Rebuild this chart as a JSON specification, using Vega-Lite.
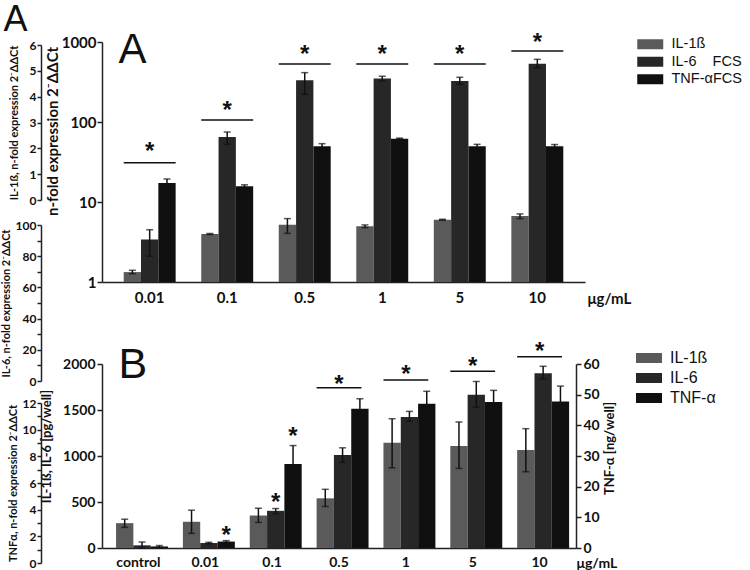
{
  "$schema": "https://vega.github.io/schema/vega-lite/v6.json",
  "background": "white",
  "padding": {"left": 0, "top": 1, "right": 0, "bottom": 0},
  "config": {
    "view": {"stroke": null},
    "axis": {"domainColor": "#222", "tickColor": "#222", "labelColor": "#111", "titleColor": "#111", "labelFont": "Lato", "titleFont": "Lato", "labelFontWeight": "bold", "titleFontWeight": "bold", "grid": false, "domainWidth": 1.5, "tickWidth": 1.5},
    "legend": {"labelFont": "Liberation Sans", "labelColor": "#111"}
  },
  "datasets": {
    "a": [
      {"cat": "0.01", "cyt": "IL-1ß", "val": 1.33, "lo": 1.27, "hi": 1.4},
      {"cat": "0.01", "cyt": "IL-6", "val": 3.4, "lo": 2.1, "hi": 4.5},
      {"cat": "0.01", "cyt": "TNF-α", "val": 17.3, "lo": 15.4, "hi": 19.4},
      {"cat": "0.1", "cyt": "IL-1ß", "val": 3.98, "lo": 3.92, "hi": 4.04},
      {"cat": "0.1", "cyt": "IL-6", "val": 65, "lo": 52.6, "hi": 75},
      {"cat": "0.1", "cyt": "TNF-α", "val": 15.7, "lo": 15.0, "hi": 16.4},
      {"cat": "0.5", "cyt": "IL-1ß", "val": 5.2, "lo": 4.06, "hi": 6.2},
      {"cat": "0.5", "cyt": "IL-6", "val": 332, "lo": 222, "hi": 414},
      {"cat": "0.5", "cyt": "TNF-α", "val": 49.7, "lo": 46.4, "hi": 53.6},
      {"cat": "1", "cyt": "IL-1ß", "val": 4.97, "lo": 4.78, "hi": 5.17},
      {"cat": "1", "cyt": "IL-6", "val": 349, "lo": 326, "hi": 373},
      {"cat": "1", "cyt": "TNF-α", "val": 61.9, "lo": 60.9, "hi": 62.9},
      {"cat": "5", "cyt": "IL-1ß", "val": 6.0, "lo": 5.92, "hi": 6.08},
      {"cat": "5", "cyt": "IL-6", "val": 326, "lo": 296, "hi": 362},
      {"cat": "5", "cyt": "TNF-α", "val": 49.7, "lo": 47.3, "hi": 52.6},
      {"cat": "10", "cyt": "IL-1ß", "val": 6.68, "lo": 6.2, "hi": 7.1},
      {"cat": "10", "cyt": "IL-6", "val": 535, "lo": 477, "hi": 607},
      {"cat": "10", "cyt": "TNF-α", "val": 49.7, "lo": 47.3, "hi": 52.3}
    ],
    "asig": [
      {"cat": "0.01", "line": 31, "star": 49.7},
      {"cat": "0.1", "line": 106, "star": 162},
      {"cat": "0.5", "line": 531, "star": 824},
      {"cat": "1", "line": 531, "star": 824},
      {"cat": "5", "line": 531, "star": 824},
      {"cat": "10", "line": 773, "star": 1152}
    ],
    "b": [
      {"cat": "control", "cyt": "IL-1ß", "val": 270, "lo": 224, "hi": 313},
      {"cat": "control", "cyt": "IL-6", "val": 29, "lo": 0, "hi": 65},
      {"cat": "control", "cyt": "TNF-α", "val": 0.5, "lo": 0.2, "hi": 0.8},
      {"cat": "0.01", "cyt": "IL-1ß", "val": 285, "lo": 159, "hi": 411},
      {"cat": "0.01", "cyt": "IL-6", "val": 54, "lo": 46, "hi": 62},
      {"cat": "0.01", "cyt": "TNF-α", "val": 2.1, "lo": 1.8, "hi": 2.4},
      {"cat": "0.1", "cyt": "IL-1ß", "val": 353, "lo": 278, "hi": 432},
      {"cat": "0.1", "cyt": "IL-6", "val": 404, "lo": 373, "hi": 429},
      {"cat": "0.1", "cyt": "TNF-α", "val": 27.4, "lo": 21, "hi": 33.4},
      {"cat": "0.5", "cyt": "IL-1ß", "val": 540, "lo": 451, "hi": 638},
      {"cat": "0.5", "cyt": "IL-6", "val": 1010, "lo": 930, "hi": 1089},
      {"cat": "0.5", "cyt": "TNF-α", "val": 45.4, "lo": 42.2, "hi": 48.7},
      {"cat": "1", "cyt": "IL-1ß", "val": 1143, "lo": 872, "hi": 1405},
      {"cat": "1", "cyt": "IL-6", "val": 1424, "lo": 1377, "hi": 1485},
      {"cat": "1", "cyt": "TNF-α", "val": 47.0, "lo": 43.3, "hi": 51.1},
      {"cat": "5", "cyt": "IL-1ß", "val": 1110, "lo": 865, "hi": 1370},
      {"cat": "5", "cyt": "IL-6", "val": 1665, "lo": 1532, "hi": 1810},
      {"cat": "5", "cyt": "TNF-α", "val": 47.6, "lo": 43.8, "hi": 51.4},
      {"cat": "10", "cyt": "IL-1ß", "val": 1064, "lo": 829, "hi": 1297},
      {"cat": "10", "cyt": "IL-6", "val": 1900, "lo": 1838, "hi": 1975},
      {"cat": "10", "cyt": "TNF-α", "val": 47.8, "lo": 43.3, "hi": 52.8}
    ],
    "bsig": [
      {"cat": "0.5", "line": 1741, "star": 1838},
      {"cat": "1", "line": 1827, "star": 1946},
      {"cat": "5", "line": 1921, "star": 2029},
      {"cat": "10", "line": 2080, "star": 2191}
    ],
    "bstar": [
      {"cat": "0.01", "cyt": "TNF-α", "star": 196},
      {"cat": "0.1", "cyt": "IL-6", "star": 558},
      {"cat": "0.1", "cyt": "TNF-α", "star": 1272}
    ],
    "stub": [{"cat": "0.1", "v": 0}]
  },
  "bounds": "flush",
  "spacing": 82,
  "resolve": {"scale": {"color": "independent"}, "legend": {"color": "independent"}},
  "vconcat": [
    {
      "width": 483,
      "height": 240,
      "encoding": {
        "x": {"field": "cat", "type": "nominal", "sort": ["0.01", "0.1", "0.5", "1", "5", "10"], "scale": {"paddingInner": 0.33, "paddingOuter": 0.28},
          "axis": {"title": "μg/mL", "labelAngle": 0, "ticks": false, "tickSize": 0, "labelPadding": 8, "labelFontSize": 15, "titleFontSize": 15, "titleX": 485, "titleY": 21, "titleAlign": "left", "titleAnchor": null, "titleBaseline": "alphabetic"}}
      },
      "layer": [
        {"data": {"name": "a"}, "mark": {"type": "bar"},
         "encoding": {
           "xOffset": {"field": "cyt", "type": "nominal", "sort": ["IL-1ß", "IL-6", "TNF-α"], "scale": {"domain": ["IL-1ß", "IL-6", "TNF-α"], "paddingInner": 0, "paddingOuter": 0}},
           "y": {"field": "val", "type": "quantitative", "scale": {"type": "log", "domain": [1, 1000], "nice": false},
             "axis": {"values": [1, 10, 100, 1000], "format": "d", "labelFontSize": 15, "tickSize": 5, "labelPadding": 1, "title": "n-fold expression 2⁻ΔΔCt", "titleFontSize": 15, "titlePadding": 1, "titleY": 89}},
           "y2": {"datum": 1},
           "color": {"field": "cyt", "type": "nominal", "scale": {"domain": ["IL-1ß", "IL-6", "TNF-α"], "range": ["#5a5a5a", "#272727", "#101010"]},
             "legend": {"title": null, "orient": "none", "legendX": 541, "legendY": -5, "symbolType": "M-2.6,-1H2.6V1H-2.6Z", "symbolSize": 100, "symbolStrokeWidth": 0, "symbolOpacity": 1, "labelFontSize": 14.5, "labelOffset": 14, "rowPadding": 2.5,
               "labelExpr": "datum.label == 'IL-6' ? 'IL-6\u00a0\u00a0\u00a0\u00a0FCS' : datum.label == 'TNF-α' ? 'TNF-αFCS' : datum.label"}}
         }},
        {"data": {"name": "a"}, "mark": {"type": "rule", "color": "#111", "strokeWidth": 1.5},
         "encoding": {
           "xOffset": {"field": "cyt", "type": "nominal", "sort": ["IL-1ß", "IL-6", "TNF-α"]},
           "y": {"field": "lo", "type": "quantitative", "scale": {"type": "log", "domain": [1, 1000], "nice": false}, "axis": null}, "y2": {"field": "hi"}}},
        {"data": {"name": "a"}, "mark": {"type": "tick", "color": "#111", "size": 7, "thickness": 1.5},
         "encoding": {
           "xOffset": {"field": "cyt", "type": "nominal", "sort": ["IL-1ß", "IL-6", "TNF-α"]},
           "y": {"field": "lo", "type": "quantitative", "scale": {"type": "log", "domain": [1, 1000], "nice": false}, "axis": null}}},
        {"data": {"name": "a"}, "mark": {"type": "tick", "color": "#111", "size": 7, "thickness": 1.5},
         "encoding": {
           "xOffset": {"field": "cyt", "type": "nominal", "sort": ["IL-1ß", "IL-6", "TNF-α"]},
           "y": {"field": "hi", "type": "quantitative", "scale": {"type": "log", "domain": [1, 1000], "nice": false}, "axis": null}}},
        {"data": {"name": "asig"}, "mark": {"type": "bar", "stroke": "#111", "strokeWidth": 1.5, "fill": "#111"},
         "encoding": {"y": {"field": "line", "type": "quantitative", "scale": {"type": "log", "domain": [1, 1000], "nice": false}, "axis": null}, "y2": {"field": "line"}}},
        {"data": {"name": "asig"}, "mark": {"type": "text", "text": "*", "font": "Liberation Sans", "fontWeight": "bold", "fontSize": 24, "color": "#111", "baseline": "middle", "dy": 6},
         "encoding": {"y": {"field": "star", "type": "quantitative", "scale": {"type": "log", "domain": [1, 1000], "nice": false}, "axis": null}}},
        {"data": {"name": "stub"}, "transform": [{"filter": "datum.v > 1"}], "mark": {"type": "point", "opacity": 0},
         "encoding": {"y": {"field": "v", "type": "quantitative", "scale": {"domain": [0, 6], "range": [158, 3], "nice": false, "zero": false},
            "axis": {"orient": "left", "offset": 61, "values": [0, 1, 2, 3, 4, 5, 6], "labelFontSize": 12, "tickSize": 4, "labelPadding": 1, "title": "IL-1ß, n-fold expression 2⁻ΔΔCt", "titleFontSize": 11, "titlePadding": 10}}}},
        {"data": {"name": "stub"}, "transform": [{"filter": "datum.v > 1"}], "mark": {"type": "point", "opacity": 0},
         "encoding": {"y": {"field": "v", "type": "quantitative", "scale": {"domain": [0, 100], "range": [339, 183], "nice": false, "zero": false},
            "axis": {"orient": "left", "offset": 61, "values": [0, 10, 20, 30, 40, 50, 60, 70, 80, 90, 100], "labelExpr": "datum.value % 20 == 0 ? datum.label : ''", "labelFontSize": 12, "tickSize": 4, "labelPadding": 1, "title": "IL-6, n-fold expression 2⁻ΔΔCt", "titleFontSize": 11, "titlePadding": 4}}}},
        {"data": {"name": "stub"}, "transform": [{"filter": "datum.v > 1"}], "mark": {"type": "point", "opacity": 0},
         "encoding": {"y": {"field": "v", "type": "quantitative", "scale": {"domain": [0, 1]},
            "axis": {"orient": "left", "domain": false, "ticks": false, "labels": false, "title": "A", "titleAngle": 0, "titleX": 16, "titleY": 20, "titleAlign": "left", "titleBaseline": "alphabetic", "titleFont": "Liberation Sans", "titleFontWeight": "normal", "titleFontSize": 42}}}},
        {"data": {"name": "stub"}, "transform": [{"filter": "datum.v > 1"}], "mark": {"type": "point", "opacity": 0},
         "encoding": {"y": {"field": "v", "type": "quantitative", "scale": {"domain": [0, 1]},
            "axis": {"orient": "left", "domain": false, "ticks": false, "labels": false, "title": "A", "titleAngle": 0, "titleX": -99, "titleY": -12, "titleAlign": "left", "titleBaseline": "alphabetic", "titleFont": "Liberation Sans", "titleFontWeight": "normal", "titleFontSize": 36}}}}
      ],
      "resolve": {"scale": {"y": "independent"}}
    },
    {
      "width": 474,
      "height": 184,
      "encoding": {
        "x": {"field": "cat", "type": "nominal", "sort": ["control", "0.01", "0.1", "0.5", "1", "5", "10"], "scale": {"paddingInner": 0.33, "paddingOuter": 0.21},
          "axis": {"title": "μg/mL", "labelAngle": 0, "ticks": false, "tickSize": 0, "labelPadding": 7, "labelFontSize": 14, "titleFontSize": 14, "titleX": 474, "titleY": 19, "titleAlign": "left", "titleAnchor": null, "titleBaseline": "alphabetic"}}
      },
      "layer": [
        {"data": {"name": "b"}, "transform": [{"filter": "datum.cyt != 'TNF-α'"}], "mark": {"type": "bar"},
         "encoding": {
           "xOffset": {"field": "cyt", "type": "nominal", "sort": ["IL-1ß", "IL-6", "TNF-α"], "scale": {"domain": ["IL-1ß", "IL-6", "TNF-α"], "paddingInner": 0, "paddingOuter": 0}},
           "y": {"field": "val", "type": "quantitative", "scale": {"domain": [0, 2000], "nice": false},
             "axis": {"values": [0, 500, 1000, 1500, 2000], "format": "d", "labelFontSize": 14, "tickSize": 5, "labelPadding": 2, "title": "IL-1ß, IL-6 [pg/well]", "titleFontSize": 13, "titlePadding": 9, "titleY": 82}},
           "color": {"field": "cyt", "type": "nominal", "scale": {"domain": ["IL-1ß", "IL-6", "TNF-α"], "range": ["#5a5a5a", "#272727", "#101010"]},
             "legend": {"title": null, "orient": "none", "legendX": 539, "legendY": -14, "symbolType": "M-2.6,-1H2.6V1H-2.6Z", "symbolSize": 100, "symbolStrokeWidth": 0, "symbolOpacity": 1, "labelFontSize": 16, "labelOffset": 13, "rowPadding": 4}}
         }},
        {"data": {"name": "b"}, "transform": [{"filter": "datum.cyt != 'TNF-α'"}], "mark": {"type": "rule", "color": "#111", "strokeWidth": 1.5},
         "encoding": {"xOffset": {"field": "cyt", "type": "nominal", "sort": ["IL-1ß", "IL-6", "TNF-α"]},
           "y": {"field": "lo", "type": "quantitative", "scale": {"domain": [0, 2000], "nice": false}, "axis": null}, "y2": {"field": "hi"}}},
        {"data": {"name": "b"}, "transform": [{"filter": "datum.cyt != 'TNF-α'"}], "mark": {"type": "tick", "color": "#111", "size": 7, "thickness": 1.5},
         "encoding": {"xOffset": {"field": "cyt", "type": "nominal", "sort": ["IL-1ß", "IL-6", "TNF-α"]},
           "y": {"field": "lo", "type": "quantitative", "scale": {"domain": [0, 2000], "nice": false}, "axis": null}}},
        {"data": {"name": "b"}, "transform": [{"filter": "datum.cyt != 'TNF-α'"}], "mark": {"type": "tick", "color": "#111", "size": 7, "thickness": 1.5},
         "encoding": {"xOffset": {"field": "cyt", "type": "nominal", "sort": ["IL-1ß", "IL-6", "TNF-α"]},
           "y": {"field": "hi", "type": "quantitative", "scale": {"domain": [0, 2000], "nice": false}, "axis": null}}},
        {"data": {"name": "bsig"}, "mark": {"type": "bar", "stroke": "#111", "strokeWidth": 1.5, "fill": "#111"},
         "encoding": {"y": {"field": "line", "type": "quantitative", "scale": {"domain": [0, 2000], "nice": false}, "axis": null}, "y2": {"field": "line"}}},
        {"data": {"name": "bsig"}, "mark": {"type": "text", "text": "*", "font": "Liberation Sans", "fontWeight": "bold", "fontSize": 24, "color": "#111", "baseline": "middle", "dy": 6},
         "encoding": {"y": {"field": "star", "type": "quantitative", "scale": {"domain": [0, 2000], "nice": false}, "axis": null}}},
        {"data": {"name": "bstar"}, "mark": {"type": "text", "text": "*", "font": "Liberation Sans", "fontWeight": "bold", "fontSize": 24, "color": "#111", "baseline": "middle", "dy": 6},
         "encoding": {"xOffset": {"field": "cyt", "type": "nominal", "sort": ["IL-1ß", "IL-6", "TNF-α"]},
           "y": {"field": "star", "type": "quantitative", "scale": {"domain": [0, 2000], "nice": false}, "axis": null}}},
        {"data": {"name": "b"}, "transform": [{"filter": "datum.cyt == 'TNF-α'"}], "mark": {"type": "bar"},
         "encoding": {"xOffset": {"field": "cyt", "type": "nominal", "sort": ["IL-1ß", "IL-6", "TNF-α"]},
           "y": {"field": "val", "type": "quantitative", "scale": {"domain": [0, 60], "nice": false},
             "axis": {"orient": "right", "values": [0, 10, 20, 30, 40, 50, 60], "labelFontSize": 14, "tickSize": 5, "labelPadding": 2, "title": "TNF-α [ng/well]", "titleFontSize": 13, "titleAngle": 270, "titlePadding": 17, "titleY": 84}},
           "color": {"field": "cyt", "type": "nominal", "legend": null}}},
        {"data": {"name": "b"}, "transform": [{"filter": "datum.cyt == 'TNF-α'"}], "mark": {"type": "rule", "color": "#111", "strokeWidth": 1.5},
         "encoding": {"xOffset": {"field": "cyt", "type": "nominal", "sort": ["IL-1ß", "IL-6", "TNF-α"]},
           "y": {"field": "lo", "type": "quantitative", "scale": {"domain": [0, 60], "nice": false}, "axis": null}, "y2": {"field": "hi"}}},
        {"data": {"name": "b"}, "transform": [{"filter": "datum.cyt == 'TNF-α'"}], "mark": {"type": "tick", "color": "#111", "size": 7, "thickness": 1.5},
         "encoding": {"xOffset": {"field": "cyt", "type": "nominal", "sort": ["IL-1ß", "IL-6", "TNF-α"]},
           "y": {"field": "lo", "type": "quantitative", "scale": {"domain": [0, 60], "nice": false}, "axis": null}}},
        {"data": {"name": "b"}, "transform": [{"filter": "datum.cyt == 'TNF-α'"}], "mark": {"type": "tick", "color": "#111", "size": 7, "thickness": 1.5},
         "encoding": {"xOffset": {"field": "cyt", "type": "nominal", "sort": ["IL-1ß", "IL-6", "TNF-α"]},
           "y": {"field": "hi", "type": "quantitative", "scale": {"domain": [0, 60], "nice": false}, "axis": null}}},
        {"data": {"name": "stub"}, "transform": [{"filter": "datum.v > 1"}], "mark": {"type": "point", "opacity": 0},
         "encoding": {"y": {"field": "v", "type": "quantitative", "scale": {"domain": [0, 12], "range": [199, 39], "nice": false, "zero": false},
            "axis": {"orient": "left", "offset": 61, "values": [0, 1, 2, 3, 4, 5, 6, 7, 8, 9, 10, 11, 12], "labelExpr": "datum.value % 2 == 0 ? datum.label : ''", "labelFontSize": 12, "tickSize": 4, "labelPadding": 1, "title": "TNFα, n-fold expression 2⁻ΔΔCt", "titleFontSize": 11, "titlePadding": 4}}}},
        {"data": {"name": "stub"}, "transform": [{"filter": "datum.v > 1"}], "mark": {"type": "point", "opacity": 0},
         "encoding": {"y": {"field": "v", "type": "quantitative", "scale": {"domain": [0, 1]},
            "axis": {"orient": "left", "domain": false, "ticks": false, "labels": false, "title": "B", "titleAngle": 0, "titleX": 16, "titleY": 13, "titleAlign": "left", "titleBaseline": "alphabetic", "titleFont": "Liberation Sans", "titleFontWeight": "normal", "titleFontSize": 43}}}}
      ],
      "resolve": {"scale": {"y": "independent"}}
    }
  ]
}
